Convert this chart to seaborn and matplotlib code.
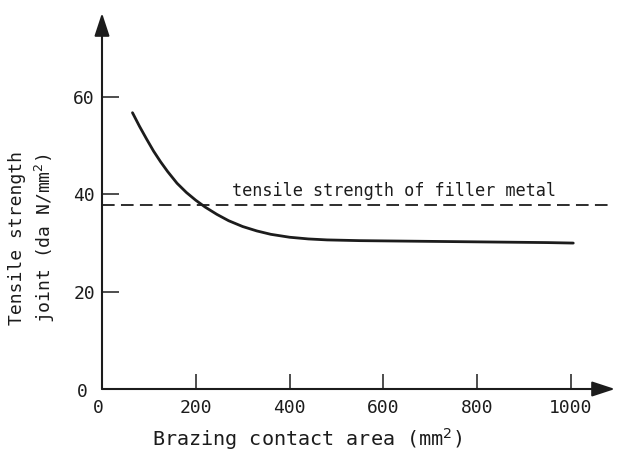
import matplotlib
matplotlib.use("Agg")
import matplotlib.pyplot as plt
import matplotlib.transforms as mtransforms
import seaborn as sns
import pandas as pd

# Data
area = [65, 80, 95, 110, 125, 140, 160, 180, 200, 220, 245, 270, 300, 330, 360,
        400, 440, 480, 550, 650, 750, 850, 950, 1005]
strength = [56.8, 54.0, 51.4, 48.9, 46.7, 44.7, 42.3, 40.4, 38.8, 37.4, 35.9, 34.6,
            33.4, 32.5, 31.8, 31.2, 30.85, 30.65, 30.5, 30.4, 30.3, 30.2, 30.1, 30.0]
filler_strength = 37.8
x_ticks = [0, 200, 400, 600, 800, 1000]
y_ticks = [0, 20, 40, 60]
filler_label = "tensile strength of filler metal"
x_label = "Brazing contact area (mm$^2$)"
y_label = "Tensile strength\njoint (da N/mm$^2$)"

sns.set_theme(style="white")
plt.rcParams["font.family"] = ["DejaVu Sans Mono", "DejaVu Sans"]
plt.rcParams["mathtext.fontset"] = "dejavusans"

ink = "#1c1c1c"
fig = plt.figure(figsize=(6.2, 4.54), dpi=100)
fig.patch.set_facecolor("white")
ax = fig.add_axes([102 / 620, 65 / 454, 513 / 620, 376 / 454])
ax.set_facecolor("white")

df = pd.DataFrame({"area": area, "strength": strength})
sns.lineplot(data=df, x="area", y="strength", ax=ax, color=ink, lw=2.0, sort=True)
ax.axhline(filler_strength, xmin=0, xmax=0.995, color=ink, lw=1.3, dashes=(7, 3.5))

ax.text(277, 39.7, filler_label, ha="left", va="baseline", fontsize=12.2, color=ink)

ax.set_xlim(0, 1094)
ax.set_ylim(0, 77.3)

for s in ax.spines.values():
    s.set_visible(False)

arrow = dict(arrowstyle="-|>,head_length=0.7,head_width=0.23", mutation_scale=20,
             lw=1.5, color=ink, shrinkA=0, shrinkB=0)
ax.annotate("", xy=(1, 0), xytext=(0, 0), xycoords="axes fraction",
            textcoords="axes fraction", arrowprops=arrow, annotation_clip=False)
ax.annotate("", xy=(0, 1), xytext=(0, 0), xycoords="axes fraction",
            textcoords="axes fraction", arrowprops=arrow, annotation_clip=False)

ax.set_xticks(x_ticks)
ax.set_xticklabels([str(v) for v in x_ticks])
ax.set_yticks(y_ticks)
ax.set_yticklabels([str(v) for v in y_ticks])
ax.tick_params(axis="x", direction="in", length=10.5, width=1.1, color=ink,
               labelsize=13, labelcolor=ink, pad=7, bottom=True)
ax.tick_params(axis="y", direction="in", length=12.5, width=1.1, color=ink,
               labelsize=13, labelcolor=ink, pad=5, left=True)

# small offsets of the two "0" labels as in the reference
lab = ax.get_yticklabels()[0]
lab.set_transform(lab.get_transform() + mtransforms.ScaledTranslation(-7 / 100, -1 / 100, fig.dpi_scale_trans))
lab = ax.get_xticklabels()[0]
lab.set_transform(lab.get_transform() + mtransforms.ScaledTranslation(-4 / 100, 0, fig.dpi_scale_trans))

ax.set_xlabel(x_label, fontsize=14.5, color=ink)
ax.xaxis.set_label_coords(0.40, -0.10)
ax.set_ylabel(y_label, fontsize=13, color=ink, va="center", ha="center", linespacing=1.4)
ax.yaxis.set_label_coords(-0.135, 0.402)

fig.savefig("out.png", dpi=100, facecolor="white")
